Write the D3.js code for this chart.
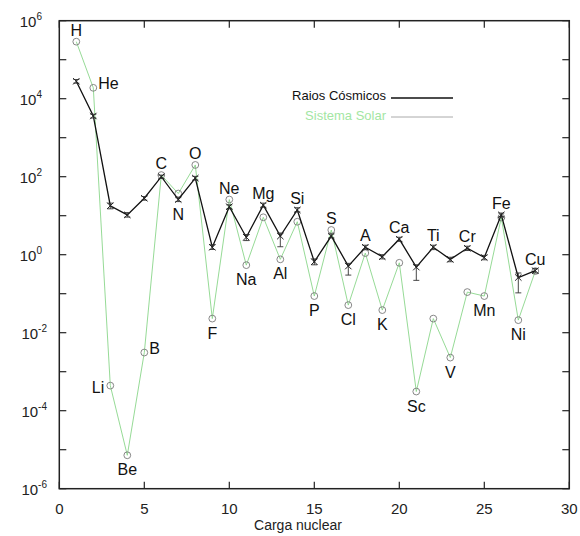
<!DOCTYPE html>
<html>
<head>
<meta charset="utf-8">
<script src="https://cdn.jsdelivr.net/npm/d3@7/dist/d3.min.js"></script>
<style>
  html, body { margin: 0; padding: 0; background: #fff; }
  svg { display: block; font-family: "Liberation Sans", Arial, sans-serif; }
</style>
</head>
<body>
<svg id="chart" width="580" height="536"></svg>
<script>
// Nuclear charge and element symbols
const charges = [1,2,3,4,5,6,7,8,9,10,11,12,13,14,15,16,17,18,19,20,21,22,23,24,25,26,27,28];
const elements = ["H","He","Li","Be","B","C","N","O","F","Ne","Na","Mg","Al","Si","P","S","Cl","A","K","Ca","Sc","Ti","V","Cr","Mn","Fe","Ni","Cu"];

// Relative abundances (Si-normalised scale)
const cosmicRays = [2.8e4,3.6e3,18,10.5,28,100,26,92,1.55,17,2.8,18.6,3.0,14,0.66,3.0,0.51,1.55,0.89,2.5,0.48,1.55,0.76,1.46,0.85,10.5,0.26,0.39];
const cosmicLow  = [2.5e4,3.2e3,15,9.2,25,90,23,82,1.36,15,2.3,16.5,1.6,12.5,0.55,2.7,0.30,1.35,0.78,2.2,0.22,1.35,0.66,1.28,0.74,9.4,0.105,0.34];
const cosmicHigh = [3.1e4,4.0e3,21,12,31,110,29,102,1.8,19,3.3,21,3.6,16,0.78,3.4,0.60,1.75,1.0,2.8,0.55,1.75,0.86,1.65,0.96,11.7,0.34,0.44];
const solarSystem = [2.9e5,1.9e4,4.4e-4,7.2e-6,3.1e-3,110,37,200,0.023,26,0.54,9.1,0.76,7.0,0.087,4.3,0.051,1.1,0.038,0.62,3.1e-4,0.023,2.3e-3,0.11,0.087,9,0.021,0.38];

// Axis ticks
const xTicks = [0,5,10,15,20,25,30];
const yExponents = [6,5,4,3,2,1,0,-1,-2,-3,-4,-5,-6];
const yLabelExponents = [6,4,2,0,-2,-4,-6];

// Where each element symbol sits relative to its points
const labelSide = ["a","r","l","b","r","a","b","a","b","a","b","a","b","a","b","a","b","a","b","a","b","a","b","a","b","a","b","a"];

const svg = d3.select("#chart");
const plotLeft = 59.3, plotRight = 569.3, plotTop = 20.7, plotBottom = 488.7;

const x = d3.scaleLinear().domain([0, 30]).range([plotLeft, plotRight]);
const y = d3.scaleLog().domain([1e-6, 1e6]).range([plotBottom, plotTop]);

const axisColor = "#222";

// Ticks (inward, on all four sides)
const tickLen = 7;
const g = svg.append("g");
yExponents.forEach(e => {
  const yy = y(Math.pow(10, e));
  g.append("line").attr("x1", plotLeft).attr("x2", plotLeft + tickLen).attr("y1", yy).attr("y2", yy)
    .attr("stroke", axisColor).attr("stroke-width", 1.2);
  g.append("line").attr("x1", plotRight).attr("x2", plotRight - tickLen).attr("y1", yy).attr("y2", yy)
    .attr("stroke", axisColor).attr("stroke-width", 1.2);
});
xTicks.forEach(t => {
  const xx = x(t);
  g.append("line").attr("x1", xx).attr("x2", xx).attr("y1", plotBottom).attr("y2", plotBottom - tickLen)
    .attr("stroke", axisColor).attr("stroke-width", 1.2);
  g.append("line").attr("x1", xx).attr("x2", xx).attr("y1", plotTop).attr("y2", plotTop + tickLen)
    .attr("stroke", axisColor).attr("stroke-width", 1.2);
});

// Frame
svg.append("rect").attr("x", plotLeft).attr("y", plotTop)
  .attr("width", plotRight - plotLeft).attr("height", plotBottom - plotTop)
  .attr("fill", "none").attr("stroke", axisColor).attr("stroke-width", 1.5);

// Tick labels
xTicks.forEach(t => {
  svg.append("text").attr("x", x(t)).attr("y", plotBottom + 25)
    .attr("text-anchor", "middle").attr("font-size", 15).attr("fill", "#222").text(t);
});
yLabelExponents.forEach(e => {
  const t = svg.append("text")
    .attr("x", e < 0 ? 47 : 42).attr("y", y(Math.pow(10, e)) + 6)
    .attr("text-anchor", "end").attr("font-size", 15).attr("fill", "#222");
  t.append("tspan").text("10");
  t.append("tspan").attr("font-size", 10).attr("dy", -7).text(e < 0 ? "-" + (-e) : e);
});

svg.append("text").attr("x", 298).attr("y", 530)
  .attr("text-anchor", "middle").attr("font-size", 14).attr("fill", "#222").text("Carga nuclear");

// Series lines
const line = d3.line().x(d => x(d[0])).y(d => y(d[1]));
const solarPts = charges.map((c, i) => [c, solarSystem[i]]);
const cosmicPts = charges.map((c, i) => [c, cosmicRays[i]]);

svg.append("path").attr("d", line(solarPts))
  .attr("fill", "none").attr("stroke", "#8ad68a").attr("stroke-width", 0.9);

svg.append("g").selectAll("circle").data(solarPts).join("circle")
  .attr("cx", d => x(d[0])).attr("cy", d => y(d[1])).attr("r", 3.4)
  .attr("fill", "none").attr("stroke", "#7a7a7a").attr("stroke-width", 0.9);

svg.append("path").attr("d", line(cosmicPts))
  .attr("fill", "none").attr("stroke", "#111").attr("stroke-width", 1.3);

// Error bars on cosmic-ray points
const eb = svg.append("g").attr("stroke", "#333").attr("stroke-width", 0.9);
charges.forEach((c, i) => {
  const xx = x(c), y1 = y(cosmicLow[i]), y2 = y(cosmicHigh[i]);
  eb.append("line").attr("x1", xx).attr("x2", xx).attr("y1", y1).attr("y2", y2);
  eb.append("line").attr("x1", xx - 3).attr("x2", xx + 3).attr("y1", y1).attr("y2", y1);
  eb.append("line").attr("x1", xx - 3).attr("x2", xx + 3).attr("y1", y2).attr("y2", y2);
});

// Cross markers
const cm = svg.append("g").attr("stroke", "#222").attr("stroke-width", 1);
cosmicPts.forEach(d => {
  const xx = x(d[0]), yy = y(d[1]), s = 3.2;
  cm.append("line").attr("x1", xx - s).attr("x2", xx + s).attr("y1", yy - s).attr("y2", yy + s);
  cm.append("line").attr("x1", xx - s).attr("x2", xx + s).attr("y1", yy + s).attr("y2", yy - s);
});

// Element symbols
const lab = svg.append("g").attr("font-size", 16).attr("fill", "#111");
charges.forEach((c, i) => {
  const hi = Math.min(y(cosmicRays[i]), y(solarSystem[i]));
  const lo = Math.max(y(cosmicRays[i]), y(solarSystem[i]));
  const side = labelSide[i];
  let tx = x(c), ty, anchor = "middle";
  if (side === "a") { ty = hi - 6; }
  else if (side === "b") { ty = lo + 20; }
  else if (side === "r") { tx = x(c) + 5; ty = y(solarSystem[i]) + 1; anchor = "start"; }
  else { tx = x(c) - 6; ty = y(solarSystem[i]) + 7; anchor = "end"; }
  lab.append("text").attr("x", tx).attr("y", ty).attr("text-anchor", anchor).text(elements[i]);
});

// Legend
const legend = svg.append("g");
legend.append("text").attr("x", 386).attr("y", 100).attr("text-anchor", "end")
  .attr("font-size", 13).attr("fill", "#111").text("Raios Cósmicos");
legend.append("line").attr("x1", 391).attr("x2", 453).attr("y1", 98).attr("y2", 98)
  .attr("stroke", "#111").attr("stroke-width", 1.3);
legend.append("text").attr("x", 386).attr("y", 120).attr("text-anchor", "end")
  .attr("font-size", 13).attr("fill", "#a3e6a3").text("Sistema Solar");
legend.append("line").attr("x1", 391).attr("x2", 453).attr("y1", 117).attr("y2", 117)
  .attr("stroke", "#aaa").attr("stroke-width", 1);
</script>
</body>
</html>
